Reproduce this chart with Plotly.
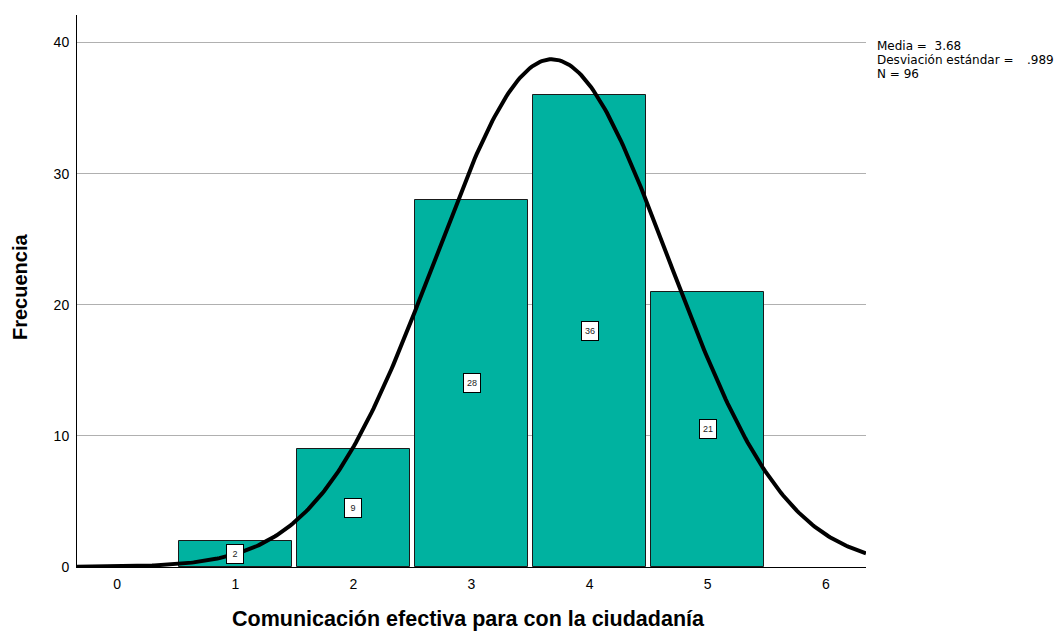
import numpy as np
import plotly.graph_objects as go

categories = [1, 2, 3, 4, 5]
frequencies = [2, 9, 28, 36, 21]
mean_val = 3.68
sd_val = 0.989
n_val = 96
x_ticks = [0, 1, 2, 3, 4, 5, 6]
y_ticks = [0, 10, 20, 30, 40]

x_range = [-0.34, 6.34]
y_range = [0, 42.1]
FONT = "Liberation Sans, Arial"

W, H = 1057, 632
ML, MR, MT, MB = 77, 191, 15, 65
plot_w = W - ML - MR
plot_h = H - MT - MB

fig = go.Figure()
fig.add_trace(go.Bar(
    x=categories, y=frequencies,
    marker=dict(color="#00B2A0", line=dict(color="#1a1a1a", width=1)),
    width=0.96, showlegend=False, hoverinfo="x+y"
))

xs = np.linspace(x_range[0], x_range[1], 400)
ys = n_val / (sd_val * np.sqrt(2 * np.pi)) * np.exp(-0.5 * ((xs - mean_val) / sd_val) ** 2)
fig.add_trace(go.Scatter(x=xs, y=ys, mode="lines", line=dict(color="black", width=4),
                         showlegend=False, hoverinfo="skip"))

for c, f in zip(categories, frequencies):
    fig.add_annotation(x=c, y=f / 2, text=str(f), showarrow=False,
                       font=dict(family=FONT, size=9, color="#222"),
                       width=12, height=14,
                       bgcolor="white", bordercolor="black", borderwidth=1, borderpad=2)

# statistics box
STAT_FONT = "DejaVu Sans, Liberation Sans"
stat_lines = ["Media = &nbsp;3.68", "Desviación estándar =", "N = 96"]
line_y_px = [46, 60, 74]
for txt, ypx in zip(stat_lines, line_y_px):
    fig.add_annotation(xref="paper", yref="paper", x=1 + 10 / plot_w,
                       y=1 - (ypx - MT) / plot_h, xanchor="left", yanchor="middle",
                       showarrow=False, text=txt, borderpad=0,
                       font=dict(family=STAT_FONT, size=12, color="black"))
fig.add_annotation(xref="paper", yref="paper", x=1 + 160 / plot_w,
                   y=1 - (60 - MT) / plot_h, xanchor="left", yanchor="middle",
                   showarrow=False, text=".989", borderpad=0,
                   font=dict(family=STAT_FONT, size=12, color="black"))

# axis titles
fig.add_annotation(xref="paper", yref="paper", x=(468 - ML) / plot_w, y=-(619 - (H - MB)) / plot_h,
                   xanchor="center", yanchor="middle", showarrow=False,
                   text="<b>Comunicación efectiva para con la ciudadanía</b>",
                   font=dict(family=FONT, size=21.5, color="black"))
fig.add_annotation(xref="paper", yref="paper", x=-(ML - 20) / plot_w, y=1 - (287 - MT) / plot_h,
                   xanchor="center", yanchor="middle", showarrow=False, textangle=-90,
                   text="<b>Frecuencia</b>",
                   font=dict(family=FONT, size=20, color="black"))

fig.update_layout(
    width=W, height=H,
    margin=dict(l=ML, r=MR, t=MT, b=MB, autoexpand=False),
    plot_bgcolor="white", paper_bgcolor="white",
    font=dict(family=FONT, size=14, color="black"),
    bargap=0,
)
fig.update_xaxes(range=x_range, tickvals=x_ticks, ticktext=[str(t) for t in x_ticks],
                 showgrid=False, zeroline=False, showline=True, linecolor="black", linewidth=1,
                 ticks="", ticklabelstandoff=4, tickfont=dict(size=14), automargin=False)
fig.update_yaxes(range=y_range, tickvals=y_ticks, showgrid=True, gridcolor="#b0b0b0", gridwidth=1,
                 zeroline=False, showline=True, linecolor="black", linewidth=1, ticks="",
                 ticklabelstandoff=4, tickfont=dict(size=14), automargin=False)

fig.write_html("out.html", config={"displayModeBar": False},
               post_script="document.body.style.margin='0';document.body.style.overflow='hidden';")
